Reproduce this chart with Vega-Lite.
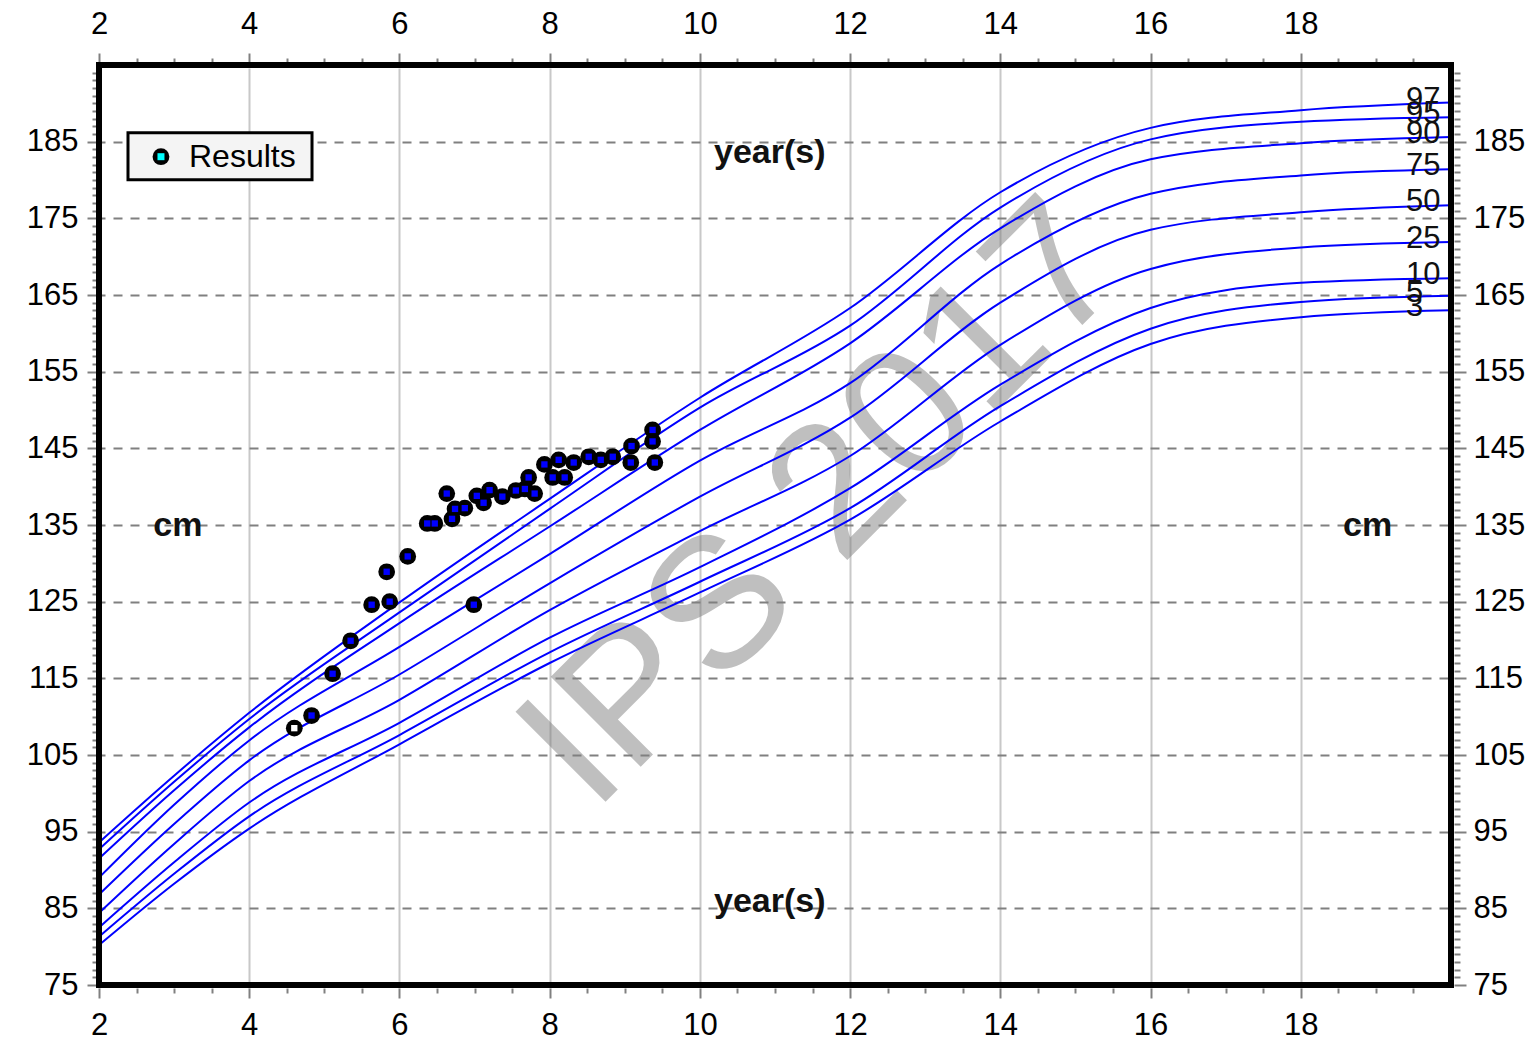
{
  "$schema": "https://vega.github.io/schema/vega-lite/v6.json",
  "width": 1352,
  "height": 920,
  "autosize": {"type": "none"},
  "padding": {"left": 99, "top": 65, "right": 86, "bottom": 61},
  "background": "white",
  "config": {
    "view": {"stroke": null},
    "font": "Liberation Sans",
    "axis": {"domain": false, "title": null, "tickColor": "#808080", "tickWidth": 2, "labelFont": "Liberation Sans", "labelFontSize": 31, "labelColor": "black", "labelFlush": false, "labelOverlap": false, "offset": 3, "grid": false}
  },
  "datasets": {
    "curves": [
      {"age": 2, "pct": "97", "height": 93.6}, {"age": 2, "pct": "95", "height": 92.7}, {"age": 2, "pct": "90", "height": 91.5}, {"age": 2, "pct": "75", "height": 89.0}, {"age": 2, "pct": "50", "height": 86.8}, {"age": 2, "pct": "25", "height": 84.4}, {"age": 2, "pct": "10", "height": 82.5}, {"age": 2, "pct": "5", "height": 81.3}, {"age": 2, "pct": "3", "height": 80.2},
      {"age": 3, "pct": "97", "height": 102.3}, {"age": 3, "pct": "95", "height": 101.5}, {"age": 3, "pct": "90", "height": 100.4}, {"age": 3, "pct": "75", "height": 98.5}, {"age": 3, "pct": "50", "height": 96.0}, {"age": 3, "pct": "25", "height": 93.4}, {"age": 3, "pct": "10", "height": 91.0}, {"age": 3, "pct": "5", "height": 89.5}, {"age": 3, "pct": "3", "height": 88.2},
      {"age": 4, "pct": "97", "height": 110.5}, {"age": 4, "pct": "95", "height": 109.7}, {"age": 4, "pct": "90", "height": 108.6}, {"age": 4, "pct": "75", "height": 106.9}, {"age": 4, "pct": "50", "height": 104.3}, {"age": 4, "pct": "25", "height": 101.6}, {"age": 4, "pct": "10", "height": 98.8}, {"age": 4, "pct": "5", "height": 97.0}, {"age": 4, "pct": "3", "height": 95.4},
      {"age": 6, "pct": "97", "height": 124.9}, {"age": 6, "pct": "95", "height": 123.6}, {"age": 6, "pct": "90", "height": 122.2}, {"age": 6, "pct": "75", "height": 119.1}, {"age": 6, "pct": "50", "height": 115.5}, {"age": 6, "pct": "25", "height": 112.2}, {"age": 6, "pct": "10", "height": 109.2}, {"age": 6, "pct": "5", "height": 107.6}, {"age": 6, "pct": "3", "height": 106.4},
      {"age": 8, "pct": "97", "height": 138.4}, {"age": 8, "pct": "95", "height": 137.1}, {"age": 8, "pct": "90", "height": 134.8}, {"age": 8, "pct": "75", "height": 131.2}, {"age": 8, "pct": "50", "height": 127.4}, {"age": 8, "pct": "25", "height": 123.9}, {"age": 8, "pct": "10", "height": 120.3}, {"age": 8, "pct": "5", "height": 118.4}, {"age": 8, "pct": "3", "height": 117.0},
      {"age": 10, "pct": "97", "height": 151.6}, {"age": 10, "pct": "95", "height": 150.3}, {"age": 10, "pct": "90", "height": 147.4}, {"age": 10, "pct": "75", "height": 143.4}, {"age": 10, "pct": "50", "height": 138.7}, {"age": 10, "pct": "25", "height": 134.2}, {"age": 10, "pct": "10", "height": 129.5}, {"age": 10, "pct": "5", "height": 127.6}, {"age": 10, "pct": "3", "height": 126.2},
      {"age": 12, "pct": "97", "height": 163.3}, {"age": 12, "pct": "95", "height": 161.0}, {"age": 12, "pct": "90", "height": 158.7}, {"age": 12, "pct": "75", "height": 153.5}, {"age": 12, "pct": "50", "height": 149.0}, {"age": 12, "pct": "25", "height": 144.0}, {"age": 12, "pct": "10", "height": 139.8}, {"age": 12, "pct": "5", "height": 137.2}, {"age": 12, "pct": "3", "height": 135.7},
      {"age": 14, "pct": "97", "height": 178.4}, {"age": 14, "pct": "95", "height": 176.4}, {"age": 14, "pct": "90", "height": 173.7}, {"age": 14, "pct": "75", "height": 169.0}, {"age": 14, "pct": "50", "height": 164.0}, {"age": 14, "pct": "25", "height": 158.5}, {"age": 14, "pct": "10", "height": 153.3}, {"age": 14, "pct": "5", "height": 150.5}, {"age": 14, "pct": "3", "height": 148.5},
      {"age": 16, "pct": "97", "height": 186.8}, {"age": 16, "pct": "95", "height": 185.3}, {"age": 16, "pct": "90", "height": 182.7}, {"age": 16, "pct": "75", "height": 178.2}, {"age": 16, "pct": "50", "height": 173.5}, {"age": 16, "pct": "25", "height": 168.4}, {"age": 16, "pct": "10", "height": 163.3}, {"age": 16, "pct": "5", "height": 160.6}, {"age": 16, "pct": "3", "height": 158.6},
      {"age": 18, "pct": "97", "height": 189.1}, {"age": 18, "pct": "95", "height": 187.6}, {"age": 18, "pct": "90", "height": 184.8}, {"age": 18, "pct": "75", "height": 180.6}, {"age": 18, "pct": "50", "height": 175.8}, {"age": 18, "pct": "25", "height": 171.2}, {"age": 18, "pct": "10", "height": 166.6}, {"age": 18, "pct": "5", "height": 164.1}, {"age": 18, "pct": "3", "height": 162.1},
      {"age": 20, "pct": "97", "height": 190.1}, {"age": 20, "pct": "95", "height": 188.2}, {"age": 20, "pct": "90", "height": 185.6}, {"age": 20, "pct": "75", "height": 181.4}, {"age": 20, "pct": "50", "height": 176.7}, {"age": 20, "pct": "25", "height": 171.9}, {"age": 20, "pct": "10", "height": 167.2}, {"age": 20, "pct": "5", "height": 164.9}, {"age": 20, "pct": "3", "height": 163.0}
    ],
    "results": [
      {"age": 4.60, "height": 108.5, "kind": "open"},
      {"age": 4.83, "height": 110.15, "kind": "measured"},
      {"age": 5.11, "height": 115.6, "kind": "measured"},
      {"age": 5.35, "height": 119.9, "kind": "measured"},
      {"age": 5.63, "height": 124.6, "kind": "measured"},
      {"age": 5.87, "height": 125.0, "kind": "measured"},
      {"age": 5.83, "height": 128.9, "kind": "measured"},
      {"age": 6.11, "height": 130.9, "kind": "measured"},
      {"age": 6.99, "height": 124.6, "kind": "measured"},
      {"age": 6.37, "height": 135.2, "kind": "measured"},
      {"age": 6.47, "height": 135.2, "kind": "measured"},
      {"age": 6.63, "height": 139.1, "kind": "measured"},
      {"age": 6.70, "height": 135.8, "kind": "measured"},
      {"age": 6.74, "height": 137.1, "kind": "measured"},
      {"age": 6.87, "height": 137.2, "kind": "measured"},
      {"age": 7.03, "height": 138.8, "kind": "measured"},
      {"age": 7.12, "height": 137.9, "kind": "measured"},
      {"age": 7.20, "height": 139.55, "kind": "measured"},
      {"age": 7.37, "height": 138.7, "kind": "measured"},
      {"age": 7.55, "height": 139.5, "kind": "measured"},
      {"age": 7.67, "height": 139.7, "kind": "measured"},
      {"age": 7.72, "height": 141.2, "kind": "measured"},
      {"age": 7.80, "height": 139.1, "kind": "measured"},
      {"age": 7.93, "height": 142.9, "kind": "measured"},
      {"age": 8.04, "height": 141.2, "kind": "measured"},
      {"age": 8.12, "height": 143.5, "kind": "measured"},
      {"age": 8.20, "height": 141.2, "kind": "measured"},
      {"age": 8.32, "height": 143.15, "kind": "measured"},
      {"age": 8.52, "height": 143.9, "kind": "measured"},
      {"age": 8.68, "height": 143.5, "kind": "measured"},
      {"age": 8.84, "height": 143.9, "kind": "measured"},
      {"age": 9.08, "height": 143.15, "kind": "measured"},
      {"age": 9.09, "height": 145.3, "kind": "measured"},
      {"age": 9.37, "height": 147.4, "kind": "measured"},
      {"age": 9.37, "height": 145.9, "kind": "measured"},
      {"age": 9.40, "height": 143.15, "kind": "measured"}
    ],
    "notes": [
      {"text": "year(s)", "age": 10.93, "height": 183.56},
      {"text": "year(s)", "age": 10.93, "height": 85.83},
      {"text": "cm", "age": 3.05, "height": 134.9},
      {"text": "cm", "age": 18.89, "height": 134.9}
    ],
    "watermark": [
      {"text": "IPS 2017", "age": 11.64, "height": 137.6}
    ],
    "legendkey": [
      {"label": "Results"}
    ],
    "frame": [
      {"x0": 2, "x1": 20, "y0": 75, "y1": 195}
    ]
  },
  "resolve": {"axis": {"x": "independent", "y": "independent"}},
  "layer": [
    {
      "data": {"name": "watermark"},
      "mark": {"type": "text", "angle": 315, "fontSize": 185, "font": "Liberation Sans", "color": "#808080", "opacity": 0.5, "align": "center", "baseline": "middle"},
      "encoding": {
        "x": {"field": "age", "type": "quantitative", "scale": {"domain": [2, 20], "nice": false, "zero": false},
              "axis": {"orient": "bottom", "values": [2, 4, 6, 8, 10, 12, 14, 16, 18], "tickSize": 10, "labelPadding": 12, "grid": true, "gridColor": "#c8c8c8", "gridWidth": 2, "gridOpacity": 1}},
        "y": {"field": "height", "type": "quantitative", "scale": {"domain": [75, 195], "nice": false, "zero": false},
              "axis": {"orient": "left", "values": [75, 85, 95, 105, 115, 125, 135, 145, 155, 165, 175, 185], "tickSize": 9, "labelPadding": 9, "grid": true, "gridColor": "#808080", "gridWidth": 2, "gridDash": [9, 8], "gridOpacity": 1}},
        "text": {"field": "text"}
      }
    },
    {
      "data": {"name": "curves"},
      "mark": {"type": "line", "color": "#0000ff", "strokeWidth": 2, "interpolate": "monotone"},
      "encoding": {
        "x": {"field": "age", "type": "quantitative", "scale": {"domain": [2, 20], "nice": false, "zero": false},
              "axis": {"orient": "top", "values": [2, 4, 6, 8, 10, 12, 14, 16, 18], "tickSize": 9, "labelPadding": 13}},
        "y": {"field": "height", "type": "quantitative", "scale": {"domain": [75, 195], "nice": false, "zero": false},
              "axis": {"orient": "right", "values": [75, 85, 95, 105, 115, 125, 135, 145, 155, 165, 175, 185], "tickSize": 12, "labelPadding": 7}},
        "detail": {"field": "pct", "type": "nominal"}
      }
    },
    {
      "data": {"name": "curves"},
      "transform": [{"filter": "datum.age == 20"}],
      "mark": {"type": "text", "align": "left", "baseline": "middle", "dx": -45, "dy": -3, "fontSize": 31, "font": "Liberation Sans", "color": "#111111"},
      "encoding": {
        "x": {"field": "age", "type": "quantitative", "axis": null},
        "y": {"field": "height", "type": "quantitative", "axis": null},
        "text": {"field": "pct"}
      }
    },
    {
      "data": {"name": "notes"},
      "mark": {"type": "text", "align": "center", "baseline": "middle", "fontSize": 34, "fontWeight": "bold", "font": "Liberation Sans", "color": "#111111"},
      "encoding": {
        "x": {"field": "age", "type": "quantitative", "axis": null},
        "y": {"field": "height", "type": "quantitative", "axis": null},
        "text": {"field": "text"}
      }
    },
    {
      "data": {"name": "results"},
      "mark": {"type": "point", "shape": "circle", "filled": true, "color": "black", "size": 280, "opacity": 1},
      "encoding": {
        "x": {"field": "age", "type": "quantitative",
              "axis": {"orient": "bottom", "values": [2.5, 3, 3.5, 4.5, 5, 5.5, 6.5, 7, 7.5, 8.5, 9, 9.5, 10.5, 11, 11.5, 12.5, 13, 13.5, 14.5, 15, 15.5, 16.5, 17, 17.5, 18.5, 19, 19.5], "labels": false, "tickSize": 5}},
        "y": {"field": "height", "type": "quantitative",
              "axis": {"orient": "left", "values": [76, 77, 78, 79, 80, 81, 82, 83, 84, 86, 87, 88, 89, 90, 91, 92, 93, 94, 96, 97, 98, 99, 100, 101, 102, 103, 104, 106, 107, 108, 109, 110, 111, 112, 113, 114, 116, 117, 118, 119, 120, 121, 122, 123, 124, 126, 127, 128, 129, 130, 131, 132, 133, 134, 136, 137, 138, 139, 140, 141, 142, 143, 144, 146, 147, 148, 149, 150, 151, 152, 153, 154, 156, 157, 158, 159, 160, 161, 162, 163, 164, 166, 167, 168, 169, 170, 171, 172, 173, 174, 176, 177, 178, 179, 180, 181, 182, 183, 184, 186, 187, 188, 189, 190, 191, 192, 193, 194], "labels": false, "tickSize": 4}}
      }
    },
    {
      "data": {"name": "results"},
      "mark": {"type": "square", "size": 40, "filled": true, "opacity": 1},
      "encoding": {
        "x": {"field": "age", "type": "quantitative",
              "axis": {"orient": "top", "values": [2.5, 3, 3.5, 4.5, 5, 5.5, 6.5, 7, 7.5, 8.5, 9, 9.5, 10.5, 11, 11.5, 12.5, 13, 13.5, 14.5, 15, 15.5, 16.5, 17, 17.5, 18.5, 19, 19.5], "labels": false, "tickSize": 4}},
        "y": {"field": "height", "type": "quantitative",
              "axis": {"orient": "right", "values": [76, 77, 78, 79, 80, 81, 82, 83, 84, 86, 87, 88, 89, 90, 91, 92, 93, 94, 96, 97, 98, 99, 100, 101, 102, 103, 104, 106, 107, 108, 109, 110, 111, 112, 113, 114, 116, 117, 118, 119, 120, 121, 122, 123, 124, 126, 127, 128, 129, 130, 131, 132, 133, 134, 136, 137, 138, 139, 140, 141, 142, 143, 144, 146, 147, 148, 149, 150, 151, 152, 153, 154, 156, 157, 158, 159, 160, 161, 162, 163, 164, 166, 167, 168, 169, 170, 171, 172, 173, 174, 176, 177, 178, 179, 180, 181, 182, 183, 184, 186, 187, 188, 189, 190, 191, 192, 193, 194], "labels": false, "tickSize": 6}},
        "color": {"field": "kind", "type": "nominal", "scale": {"domain": ["measured", "open"], "range": ["#0000ff", "#ffffff"]}, "legend": null}
      }
    },
    {
      "data": {"name": "legendkey"},
      "mark": {"type": "rect", "fill": "#f4f4f4", "stroke": "black", "strokeWidth": 3},
      "encoding": {
        "x": {"datum": 2.386, "type": "quantitative", "axis": null},
        "x2": {"datum": 4.836},
        "y": {"datum": 180.04, "type": "quantitative", "axis": null},
        "y2": {"datum": 186.17}
      }
    },
    {
      "data": {"name": "legendkey"},
      "mark": {"type": "point", "shape": "circle", "filled": true, "color": "black", "size": 283, "opacity": 1},
      "encoding": {
        "x": {"datum": 2.825, "type": "quantitative", "axis": null},
        "y": {"datum": 183.04, "type": "quantitative", "axis": null}
      }
    },
    {
      "data": {"name": "legendkey"},
      "mark": {"type": "square", "filled": true, "color": "#00ffff", "size": 49, "opacity": 1},
      "encoding": {
        "x": {"datum": 2.825, "type": "quantitative", "axis": null},
        "y": {"datum": 183.04, "type": "quantitative", "axis": null}
      }
    },
    {
      "data": {"name": "legendkey"},
      "mark": {"type": "text", "align": "left", "baseline": "middle", "fontSize": 32, "font": "Liberation Sans", "color": "black"},
      "encoding": {
        "x": {"datum": 3.198, "type": "quantitative", "axis": null},
        "y": {"datum": 183.04, "type": "quantitative", "axis": null},
        "text": {"field": "label"}
      }
    },
    {
      "data": {"name": "frame"},
      "mark": {"type": "rect", "filled": false, "fill": null, "stroke": "black", "strokeWidth": 6},
      "encoding": {
        "x": {"field": "x0", "type": "quantitative", "axis": null},
        "x2": {"field": "x1"},
        "y": {"field": "y0", "type": "quantitative", "axis": null},
        "y2": {"field": "y1"}
      }
    }
  ]
}
